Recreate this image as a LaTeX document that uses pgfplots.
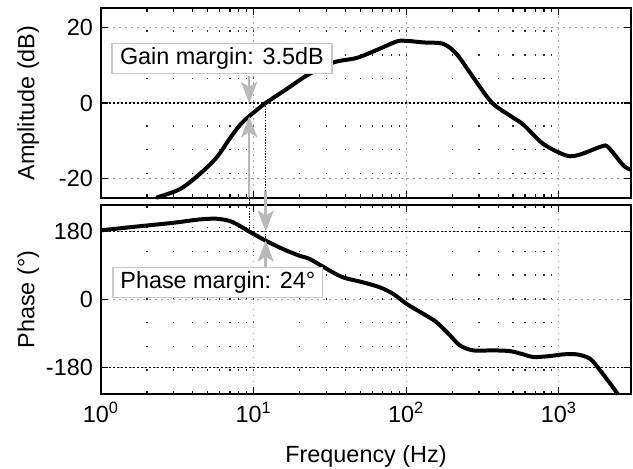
\documentclass[border=0pt]{standalone}
\usepackage{fontspec}
\setmainfont{Liberation Sans}
\usepackage{pgfplots}
\pgfplotsset{compat=1.18}
\usetikzlibrary{arrows.meta}

\definecolor{annot}{RGB}{185,185,185}
\definecolor{boxedge}{RGB}{200,200,200}

\tikzset{
  bdref/.style={black, line width=0.6pt, dash pattern=on 1pt off 1pt},
  bdvline/.style={black, line width=0.5pt, dash pattern=on 0.7pt off 0.7pt},
  bdcurve/.style={black, line width=2pt, smooth},
  bdmarg/.style={annot, line width=1.2pt, -{Stealth[length=10.5pt,width=8pt,inset=2.5pt]}},
}

\begin{document}
\fontsize{11.7}{14}\selectfont
\begin{tikzpicture}
\path[use as bounding box] (0,0) rectangle (316.5pt,234pt);
\pgfplotsset{
  every axis/.append style={
    scale only axis, width=265pt,
    xmode=log, xmin=1, xmax=2970,
    clip=false,
    axis line style={line width=1pt},
    tick align=inside, tick pos=both,
    major tick length=3.5pt, minor tick length=1.7pt,
    every tick/.style={black, line width=0.6pt},
    xmajorgrids, xminorgrids, ymajorgrids,
    major grid style={black!35, line width=0.5pt, dash pattern=on 0.8pt off 2.2pt},
    minor grid style={black!80, line width=0.6pt, dash pattern=on 0.7pt off 11.15pt},
    xtick={1,10,100,1000},
    ylabel style={at={(axis description cs:-0.137,0.5)}, anchor=center},
  },
}

% amplitude
\begin{axis}[at={(50.5pt,135.15pt)}, anchor=south west, height=94.7pt,
    ymin=-25, ymax=25, ytick={-20,0,20}, yticklabels={-20,0,20},
    xticklabels={},
    ylabel={Amplitude (dB)}]
\addplot[bdref] coordinates {(1,0) (2970,0)};
\addplot[bdvline] coordinates {(9.35,-3.5) (9.35,-25)};
\addplot[bdvline] coordinates {(12,0) (12,-25)};
\addplot[bdcurve] coordinates {
(2.3,-25) (3.3,-22.7) (4.45,-18.7) (5.73,-14.35) (7.0,-9.3) (8.15,-5.8)
(9.35,-3.5) (12.0,0) (16.5,3.7) (22.8,7.5) (33.3,10.7) (47.4,11.9)
(64.1,14.0) (86.7,16.25) (100.7,16.4) (129,16.0) (175,15.6) (214,12.9)
(275,6.75) (363,0.15) (479,-3.35) (585,-5.7) (791,-10.8) (1126,-13.9)
(1377,-13.6) (1910,-11.45) (2110,-11.7) (2650,-16.5) (2970,-17.6)
};
\draw[bdmarg] (axis cs:9.35,7.2) -- (axis cs:9.35,0);
\draw[bdmarg] (axis cs:9.35,-25) -- (axis cs:9.35,-3.5);
\end{axis}

% phase
\begin{axis}[at={(50.5pt,36.85pt)}, anchor=south west, height=94.65pt,
    ymin=-250, ymax=250, ytick={-180,0,180}, yticklabels={-180,0,180},
    xticklabels={10\textsuperscript{0},10\textsuperscript{1},10\textsuperscript{2},10\textsuperscript{3}},
    xlabel={Frequency (Hz)},
    xlabel style={at={(axis description cs:0.5,-0.326)}, anchor=center},
    ylabel={Phase (°)}]
\addplot[bdref] coordinates {(1,180) (2970,180)};
\addplot[bdref] coordinates {(1,-180) (2970,-180)};
\addplot[bdvline] coordinates {(9.35,180) (9.35,270)};
\addplot[bdvline] coordinates {(12,156) (12,270)};
\addplot[bdcurve] coordinates {
(1,183.2) (1.8,194) (2.98,203) (4.45,212) (5.73,213.7) (7.0,207.6)
(8.15,194.5) (9.35,180) (12.0,156) (15.7,133) (20.1,115.6) (23.4,107)
(31.7,76.2) (38.7,58.6) (52.4,45.5) (67.4,32.3) (82.4,15) (100.7,-11.3)
(129.5,-37.6) (158,-59.7) (194,-94.6) (225,-121) (275,-134) (372,-134)
(479,-136) (585,-144.5) (680,-151.6) (875,-149) (1071,-144.5) (1310,-144.5)
(1600,-156) (1862,-186.6) (2168,-221.5) (2440,-250)
};
\draw[bdmarg] (axis cs:12,287) -- (axis cs:12,180);
\draw[bdmarg] (axis cs:12,83.3) -- (axis cs:12,156);
\end{axis}

\node[draw=boxedge, line width=0.75pt, fill=white, minimum width=109.85pt,
      minimum height=14.8pt, inner sep=0pt] at (110.95pt,204.75pt) {Gain margin: 3.5dB};
\node[draw=boxedge, line width=0.75pt, fill=white, minimum width=104.85pt,
      minimum height=15.2pt, inner sep=0pt] at (108.93pt,92.75pt) {Phase margin: 24°};
\end{tikzpicture}
\end{document}
